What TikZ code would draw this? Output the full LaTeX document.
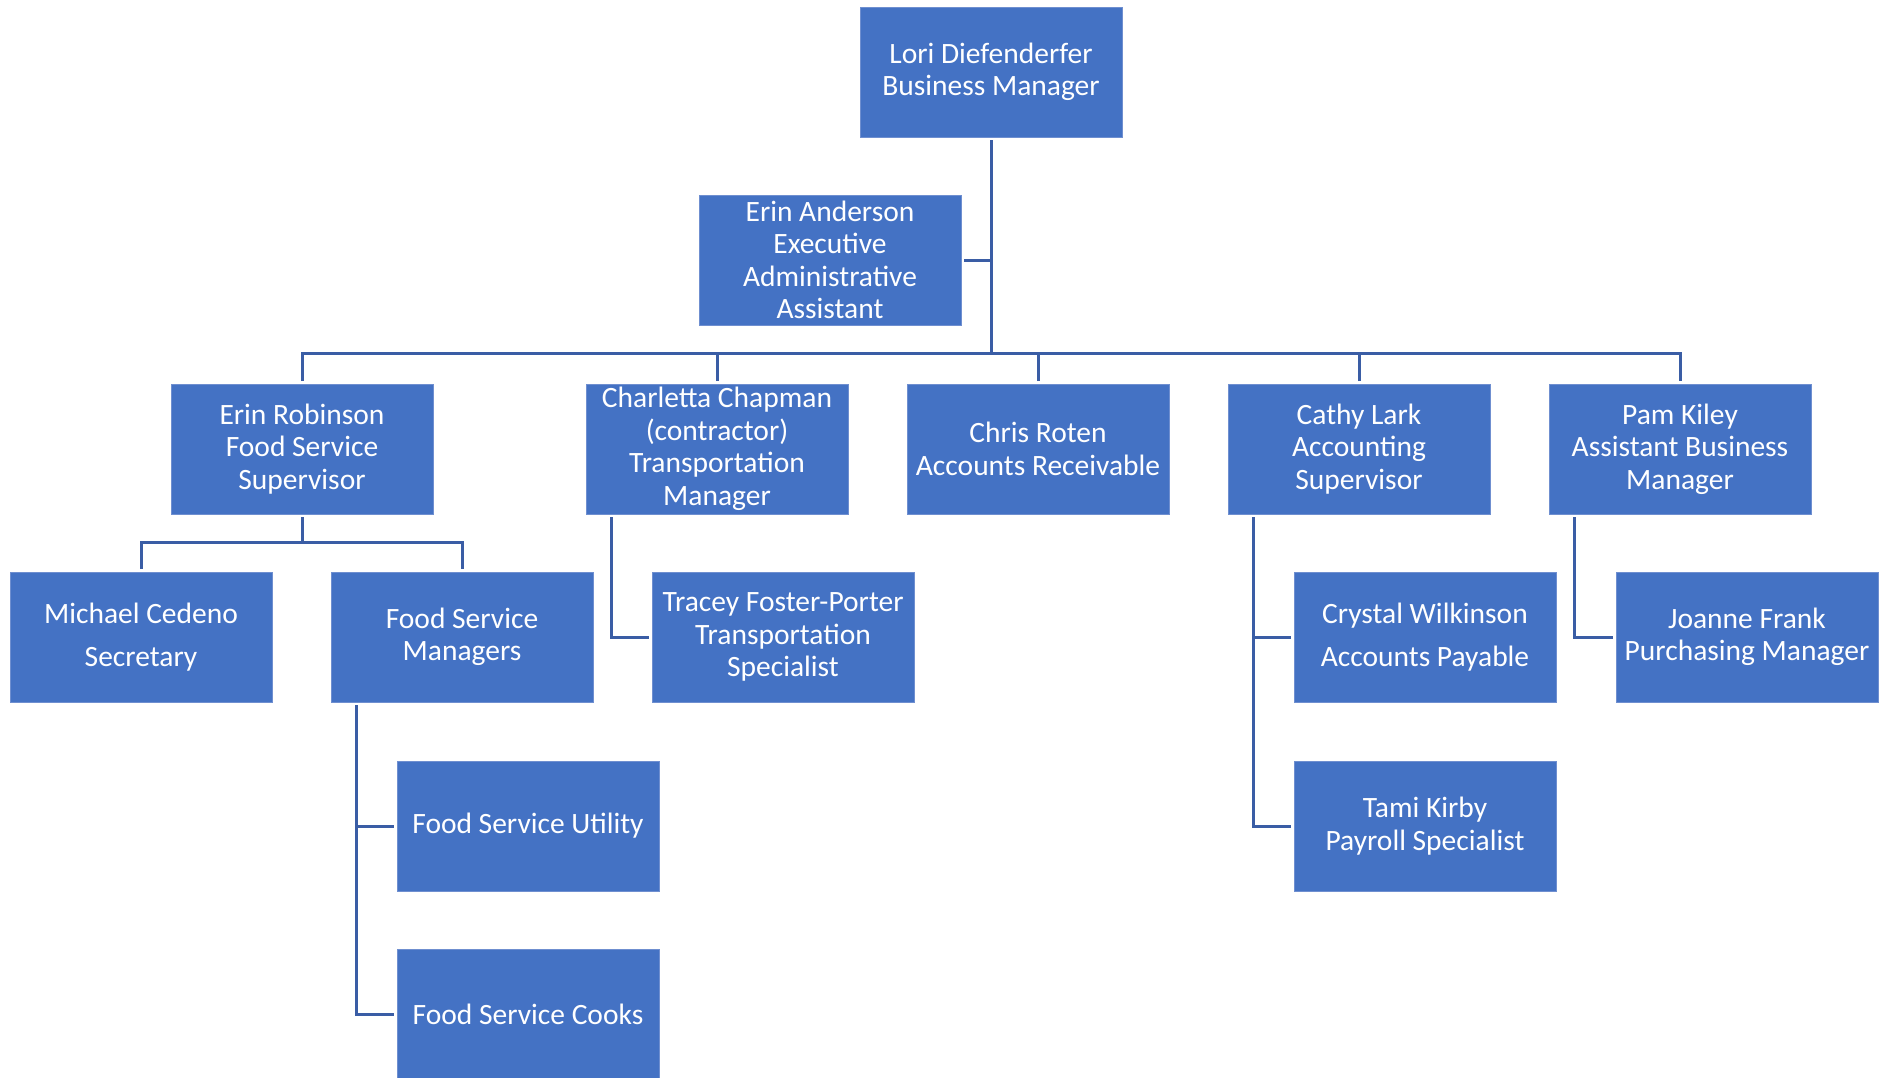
\documentclass[tikz,border=0pt]{standalone}
\usepackage{fontspec}
\setmainfont{Carlito}
\definecolor{boxblue}{HTML}{4472C4}
\definecolor{boxedge}{HTML}{6F8FD0}
\definecolor{linkblue}{HTML}{3A5DA5}
\tikzset{
  orgbox/.style={rectangle, fill=boxblue, draw=boxedge, line width=1pt,
    minimum width=262pt, minimum height=130pt, inner sep=0pt, outer sep=3pt,
    text=white, align=center, font=\fontsize{29.5}{32.5}\selectfont},
  link/.style={draw=linkblue, line width=3pt}
}
\begin{document}
\begin{tikzpicture}[x=1pt, y=-1pt]
\useasboundingbox (0,0) rectangle (1891,1077);
% boxes
\node[orgbox] (top) at (991,72) {Lori Diefenderfer\\Business Manager};
\node[orgbox] (anderson) at (830,260) {Erin Anderson\\Executive\\Administrative\\Assistant};
\node[orgbox] (robinson) at (302,449) {Erin Robinson\\Food Service\\Supervisor};
\node[orgbox] (chapman) at (717,449) {Charletta Chapman\\(contractor)\\Transportation\\Manager};
\node[orgbox] (roten) at (1038,449) {Chris Roten\\Accounts Receivable};
\node[orgbox] (lark) at (1359,449) {Cathy Lark\\Accounting\\Supervisor};
\node[orgbox] (kiley) at (1680,449) {Pam Kiley\\Assistant Business\\Manager};
\node[orgbox] (cedeno) at (141,637) {Michael Cedeno\\[11pt]Secretary};
\node[orgbox] (fsm) at (462,637) {Food Service\\Managers};
\node[orgbox] (foster) at (783,637) {Tracey Foster-Porter\\Transportation\\Specialist};
\node[orgbox] (wilkinson) at (1425,637) {Crystal Wilkinson\\[11pt]Accounts Payable};
\node[orgbox] (frank) at (1747,637) {Joanne Frank\\Purchasing Manager};
\node[orgbox] (utility) at (528,826) {Food Service Utility};
\node[orgbox] (kirby) at (1425,826) {Tami Kirby\\Payroll Specialist};
\node[orgbox] (cooks) at (528,1014) {Food Service Cooks};
% helper coordinates
\coordinate (bus) at (991,353);
\coordinate (rb) at (302,542);
% connectors
\draw[link] (top.south) -- (bus);
\draw[link] (anderson.east) -- (anderson.east -| bus);
\draw[link] (robinson.north) -- (robinson.north |- bus) -- (kiley.north |- bus) -- (kiley.north);
\draw[link] (chapman.north) -- (chapman.north |- bus);
\draw[link] (roten.north) -- (roten.north |- bus);
\draw[link] (lark.north) -- (lark.north |- bus);
\draw[link] (robinson.south) -- (rb);
\draw[link] (cedeno.north) |- (rb) -| (fsm.north);
\draw[link] ([xshift=-106pt]chapman.south) |- (foster.west);
\draw[link] ([xshift=-106pt]fsm.south) |- (utility.west);
\draw[link] ([xshift=-106pt]fsm.south) |- (cooks.west);
\draw[link] ([xshift=-106pt]lark.south) |- (wilkinson.west);
\draw[link] ([xshift=-106pt]lark.south) |- (kirby.west);
\draw[link] ([xshift=-106pt]kiley.south) |- (frank.west);
\end{tikzpicture}
\end{document}
